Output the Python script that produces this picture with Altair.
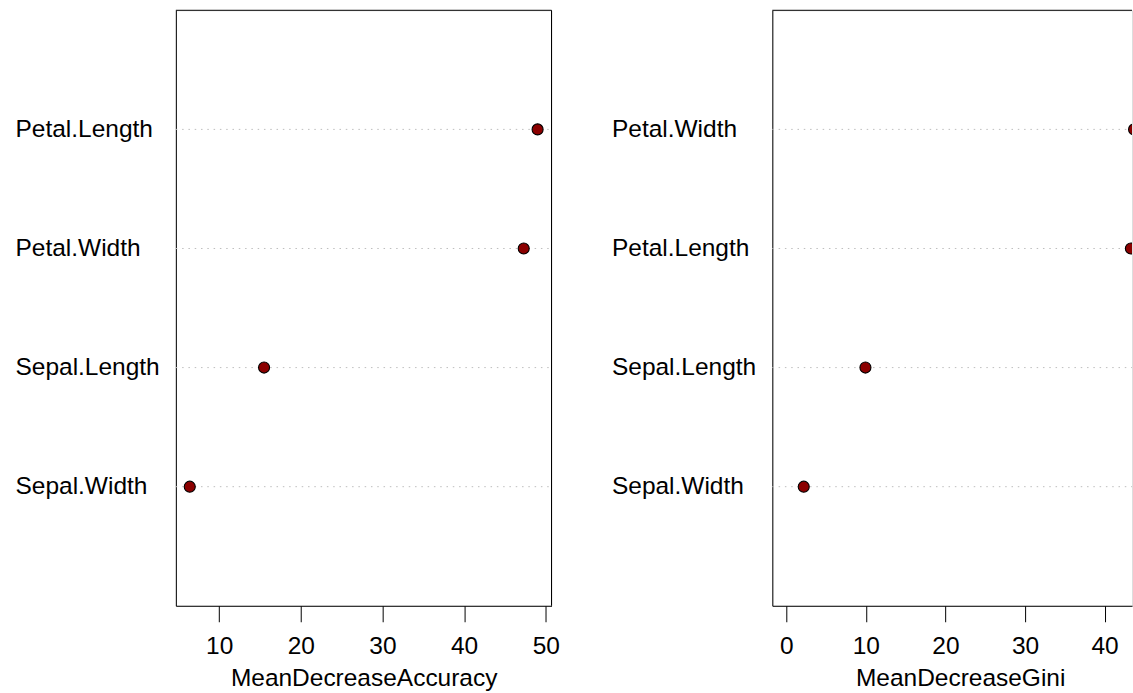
import altair as alt
import pandas as pd

# Variable importance of a random forest on iris, two measures
acc_vars = ["Sepal.Width", "Sepal.Length", "Petal.Width", "Petal.Length"]
acc_values = [6.4, 15.5, 47.3, 49.0]
acc_ticks = [10, 20, 30, 40, 50]

gini_vars = ["Sepal.Width", "Sepal.Length", "Petal.Length", "Petal.Width"]
gini_values = [2.2, 9.95, 43.3, 43.7]
gini_ticks = [0, 10, 20, 30, 40]

FONT = "Liberation Sans"
FS = 24.5
W, H = 376, 596
DOT_FILL = "#8B0000"


def panel(names, values, title, ticks, xmin, shown_width):
    """Dot chart with dotted guide lines; xmin is the left end of the scale."""
    df = pd.DataFrame({"var": names, "value": values})
    top_to_bottom = list(reversed(names))
    lo = xmin - 0.04 * (max(values) - xmin)
    hi = max(values) + 0.04 * (max(values) - xmin)
    # keep the same px-per-unit when only part of the panel is shown
    hi_shown = lo + (hi - lo) * shown_width / W

    y = alt.Y(
        "var:N",
        sort=top_to_bottom,
        scale=alt.Scale(type="point", padding=1),
        axis=alt.Axis(
            title=None, ticks=False, tickSize=0, labelAlign="left",
            labelPadding=161, labelFont=FONT, labelFontSize=FS,
            labelColor="black", domainColor="black", domainWidth=1,
            grid=False, labelLimit=0,
        ),
    )
    base = alt.Chart(df)
    guides = base.mark_rule(
        color="#BEBEBE", strokeWidth=1, strokeDash=[1.5, 4.8]
    ).encode(y=y, x=alt.value(0), x2=alt.value(shown_width))

    dots = base.mark_point(
        shape="circle", filled=True, fill=DOT_FILL, stroke="black",
        strokeWidth=1.1, size=122, opacity=1, clip=True,
    ).encode(
        y=y,
        x=alt.X(
            "value:Q",
            scale=alt.Scale(domain=[lo, hi_shown], nice=False, zero=False),
            axis=alt.Axis(
                title=title, values=ticks, grid=False,
                tickSize=16, tickWidth=1, tickColor="black",
                domainColor="black", domainWidth=1,
                labelPadding=13, labelFont=FONT, labelFontSize=FS,
                labelColor="black", labelFlush=False, labelOverlap=False,
                titlePadding=8, titleFont=FONT, titleFontSize=FS,
                titleFontWeight="normal", titleColor="black",
                titleX=W / 2, titleAlign="center",
            ),
        ),
    )

    frame = pd.DataFrame({"k": [0]})
    top_edge = alt.Chart(frame).mark_rule(color="black", strokeWidth=1).encode(
        y=alt.value(0), x=alt.value(0), x2=alt.value(shown_width)
    )
    layers = [guides, dots, top_edge]
    if shown_width >= W:
        right_edge = alt.Chart(frame).mark_rule(color="black", strokeWidth=1).encode(
            x=alt.value(W), y=alt.value(0), y2=alt.value(H)
        )
        layers.append(right_edge)
    return alt.layer(*layers).properties(width=shown_width, height=H)


left = panel(acc_vars, acc_values, "MeanDecreaseAccuracy", acc_ticks,
             min(acc_values), W)
# the Gini panel starts at zero and runs off the page edge
right = panel(gini_vars, gini_values, "MeanDecreaseGini", gini_ticks,
              0, 360)

chart = (
    alt.hconcat(left, right, spacing=221, bounds="flush")
    .properties(padding={"left": 14, "top": 9, "right": 0, "bottom": 0})
    .configure_view(stroke="transparent")
    .configure(background="white")
)

chart.save("out.html", embed_options={"renderer": "svg", "actions": False})
